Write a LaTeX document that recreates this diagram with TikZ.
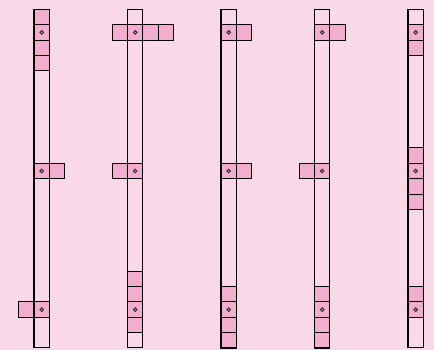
\documentclass[tikz,border=0pt]{standalone}
\usepackage{xcolor}
\definecolor{bgpink}{RGB}{249,216,232}
\definecolor{cellpink}{RGB}{242,174,206}

\tikzset{
  cellbox/.style={fill=cellpink, draw=black, line width=0.6pt},
  barbox/.style={draw=black, line width=0.6pt},
  dot/.style={circle, draw=black!80, line width=0.6pt, inner sep=0pt, minimum size=2pt}
}

\newcommand{\sqcell}[3]{\draw[cellbox] ({34+93.5*#1+15.4*#2},{9.3+15.4*#3}) rectangle ++(15.4,15.4);}

\begin{document}
\begin{tikzpicture}[x=0.02cm, y=-0.02cm]

\fill[bgpink] (0,0) rectangle (434,350);
\useasboundingbox (0,0) rectangle (434,350);

% column 1
\foreach \r in {0,1,2,3} {\sqcell{0}{0}{\r}}
\sqcell{0}{0}{10} \sqcell{0}{1}{10}
\sqcell{0}{-1}{19} \sqcell{0}{0}{19}

% column 2
\foreach \k in {-1,0,1,2} {\sqcell{1}{\k}{1}}
\sqcell{1}{-1}{10} \sqcell{1}{0}{10}
\foreach \r in {17,18,19,20} {\sqcell{1}{0}{\r}}

% column 3
\sqcell{2}{0}{1} \sqcell{2}{1}{1}
\sqcell{2}{0}{10} \sqcell{2}{1}{10}
\foreach \r in {18,19,20,21} {\sqcell{2}{0}{\r}}

% column 4
\sqcell{3}{0}{1} \sqcell{3}{1}{1}
\sqcell{3}{-1}{10} \sqcell{3}{0}{10}
\foreach \r in {18,19,20,21} {\sqcell{3}{0}{\r}}

% column 5
\sqcell{4}{0}{1} \sqcell{4}{0}{2}
\foreach \r in {9,10,11,12} {\sqcell{4}{0}{\r}}
\sqcell{4}{0}{18} \sqcell{4}{0}{19}

% bars and dots
\foreach \i in {0,...,4} {
  \draw[barbox] ({34+93.5*\i},9.3) rectangle ++(15.4,338.4);
  \foreach \r in {1,10,19}
    \node[dot] (dot-\i-\r) at ({34+93.5*\i+7.7},{9.3+15.4*\r+7.7}) {};
}

\end{tikzpicture}
\end{document}
